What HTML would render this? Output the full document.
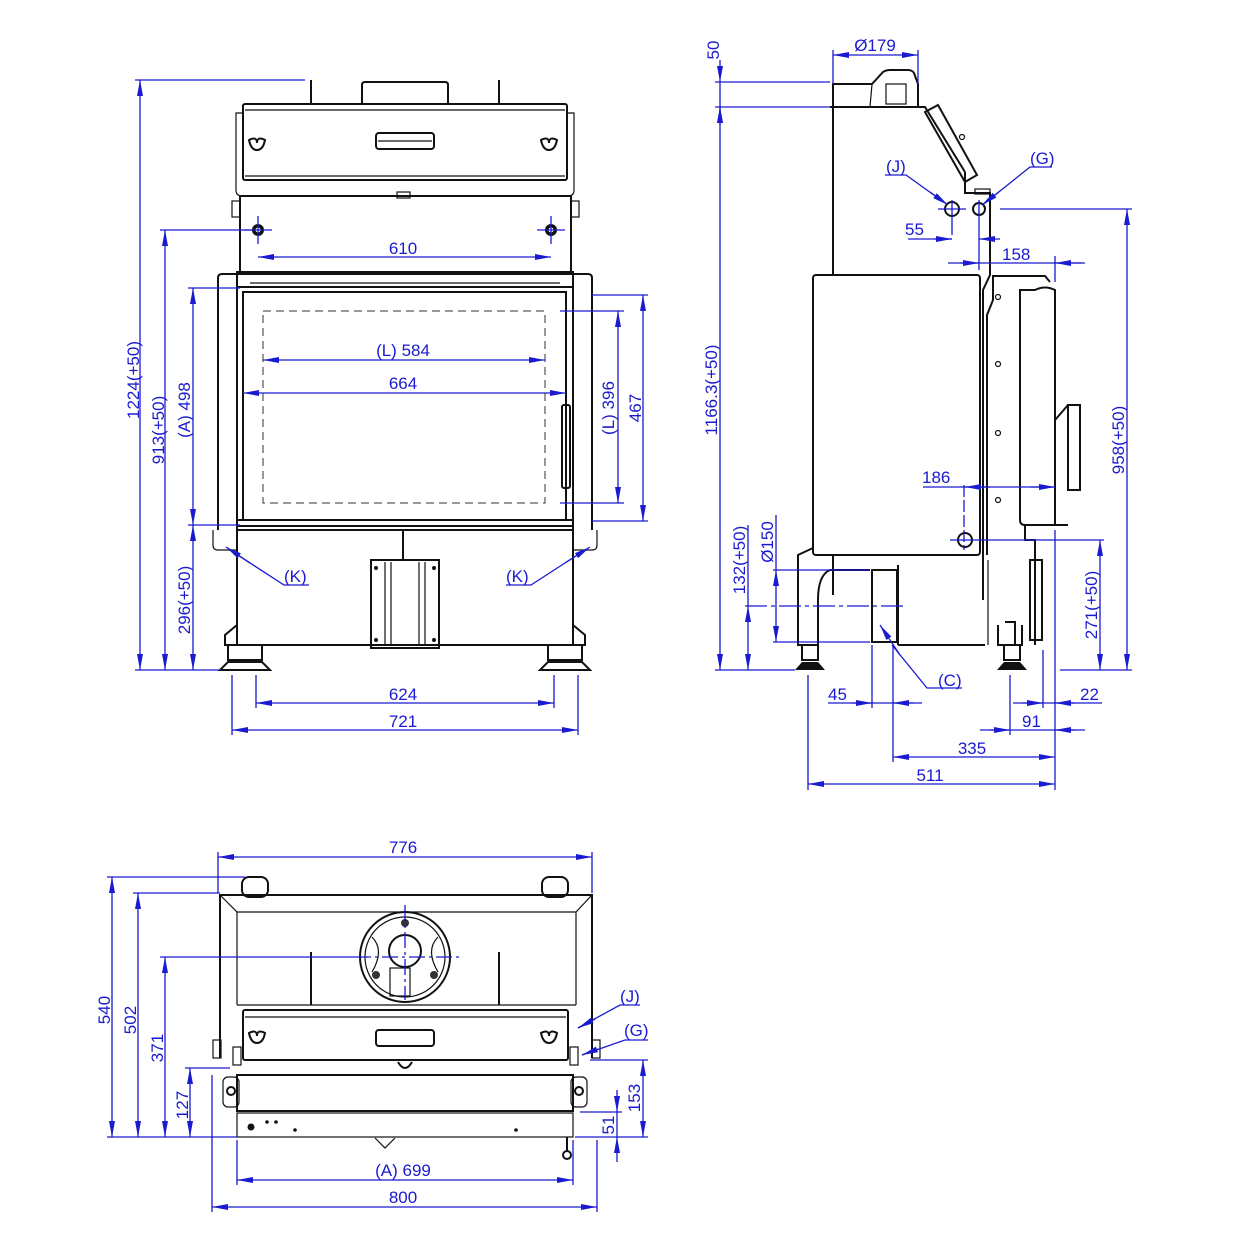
<!DOCTYPE html>
<html><head><meta charset="utf-8"><style>
html,body{margin:0;padding:0;background:#fff;width:1241px;height:1259px;overflow:hidden}
svg{display:block}
.k{fill:none;stroke:#111;stroke-width:2}
.t{fill:none;stroke:#111;stroke-width:1.2}
.b{fill:none;stroke:#1a1ad0;stroke-width:1.3}
.d{stroke:#1a1ad0;stroke-width:1.3;marker-start:url(#a);marker-end:url(#a)}
.e{stroke:#1a1ad0;stroke-width:1.3;marker-end:url(#a)}
text{font-family:"Liberation Sans",sans-serif;font-size:17px;fill:#1a1ad0}
</style></head><body>
<svg width="1241" height="1259" viewBox="0 0 1241 1259" xmlns="http://www.w3.org/2000/svg">
<defs><marker id="a" markerUnits="userSpaceOnUse" markerWidth="16" markerHeight="8" refX="16" refY="4" orient="auto-start-reverse"><path d="M0,1L16,4L0,7z" fill="#1a1ad0"/></marker></defs>

<!-- ============ FRONT VIEW ============ -->
<g>
<path class="k" d="M362,104V85Q362,82 365,82H445Q448,82 448,85V104"/>
<path class="k" d="M311,80V104M499,80V104"/>
<rect class="k" x="243" y="104" width="324" height="76" rx="2"/>
<line class="t" x1="245" y1="110" x2="565" y2="110"/><line class="t" x1="245" y1="176" x2="565" y2="176"/>
<path class="t" d="M243,113H236V190Q236,196 242,196H568Q574,196 574,190V113H567"/>
<rect class="k" x="376" y="133" width="58" height="16" rx="3"/><line class="t" x1="378" y1="141" x2="432" y2="141"/>
<path class="k" d="M249,140q8,-4 8,3q0,-7 8,-3q-2,10 -8,10q-6,0 -8,-10z"/>
<path class="k" d="M541,140q8,-4 8,3q0,-7 8,-3q-2,10 -8,10q-6,0 -8,-10z"/>
<rect class="t" x="397" y="192" width="13" height="6"/>
<rect class="k" x="240" y="196" width="331" height="76"/>
<rect class="t" x="232" y="201" width="8" height="16"/><rect class="t" x="571" y="201" width="8" height="16"/>
<circle cx="258" cy="230" r="6" fill="#111"/><circle cx="258" cy="230" r="2.5" fill="#fff"/>
<circle cx="551" cy="230" r="6" fill="#111"/><circle cx="551" cy="230" r="2.5" fill="#fff"/>
<path class="b" d="M244,230H272M258,216V244M537,230H565M551,216V244"/>
<!-- door -->
<path class="k" d="M218,530V278Q218,274 222,274H588Q592,274 592,278V530"/>
<rect class="k" x="237" y="272" width="336" height="258"/>
<line class="k" x1="237" y1="287" x2="573" y2="287"/>
<rect class="k" x="243" y="292" width="323" height="228"/>
<line class="t" x1="250" y1="283" x2="560" y2="283"/>
<rect x="263" y="311" width="282" height="192" fill="none" stroke="#333" stroke-width="1" stroke-dasharray="8,5"/>
<rect class="k" x="562" y="405" width="8" height="83" rx="2"/>
<line class="k" x1="237" y1="520" x2="573" y2="520"/>
<line class="k" x1="237" y1="526" x2="573" y2="526"/>
<!-- lower -->
<rect class="k" x="237" y="530" width="336" height="115"/>
<path class="t" d="M213,530V545Q213,550 218,550H237M597,530V545Q597,550 592,550H573"/>
<line class="k" x1="403" y1="530" x2="403" y2="560"/>
<rect class="k" x="371" y="560" width="68" height="88"/>
<path class="t" d="M385,562V646M391,562V646M419,562V646M425,562V646"/>
<circle cx="376" cy="568" r="2" fill="#111"/><circle cx="434" cy="568" r="2" fill="#111"/><circle cx="376" cy="640" r="2" fill="#111"/><circle cx="434" cy="640" r="2" fill="#111"/>
<path class="k" d="M237,625L225,635V645H585V635L573,625"/>
<path class="k" d="M228,645V660H262V645M548,645V660H582V645"/>
<path class="k" d="M220,670L228,662H262L270,670ZM540,670L548,662H582L590,670Z" fill="#111"/>
</g>
<!-- front dims -->
<line class="b" x1="135" y1="80" x2="305" y2="80"/>
<line class="b" x1="135" y1="670" x2="220" y2="670"/>
<line class="d" x1="140" y1="80" x2="140" y2="670"/>
<text transform="translate(139,380) rotate(-90)" text-anchor="middle">1224(+50)</text>
<line class="b" x1="160" y1="230" x2="252" y2="230"/>
<line class="d" x1="165" y1="230" x2="165" y2="670"/>
<text transform="translate(164,430) rotate(-90)" text-anchor="middle">913(+50)</text>
<line class="b" x1="188" y1="288" x2="240" y2="288"/>
<line class="b" x1="188" y1="525" x2="240" y2="525"/>
<line class="d" x1="193" y1="288" x2="193" y2="525"/>
<text transform="translate(190,410) rotate(-90)" text-anchor="middle">(A) 498</text>
<line class="d" x1="193" y1="525" x2="193" y2="670"/>
<text transform="translate(190,600) rotate(-90)" text-anchor="middle">296(+50)</text>
<line class="b" x1="560" y1="311" x2="624" y2="311"/>
<line class="b" x1="560" y1="503" x2="624" y2="503"/>
<line class="d" x1="618" y1="311" x2="618" y2="503"/>
<text transform="translate(614,408) rotate(-90)" text-anchor="middle">(L) 396</text>
<line class="b" x1="592" y1="295" x2="648" y2="295"/>
<line class="b" x1="592" y1="521" x2="648" y2="521"/>
<line class="d" x1="643" y1="295" x2="643" y2="521"/>
<text transform="translate(641,408) rotate(-90)" text-anchor="middle">467</text>
<line class="d" x1="258" y1="257" x2="551" y2="257"/><text x="403" y="254" text-anchor="middle">610</text>
<line class="d" x1="263" y1="360" x2="545" y2="360"/><text x="403" y="356" text-anchor="middle">(L) 584</text>
<line class="d" x1="243" y1="393" x2="566" y2="393"/><text x="403" y="389" text-anchor="middle">664</text>
<line class="b" x1="256" y1="675" x2="256" y2="708"/><line class="b" x1="554" y1="675" x2="554" y2="708"/>
<line class="d" x1="256" y1="703" x2="554" y2="703"/><text x="403" y="700" text-anchor="middle">624</text>
<line class="b" x1="232" y1="675" x2="232" y2="735"/><line class="b" x1="578" y1="675" x2="578" y2="735"/>
<line class="d" x1="232" y1="730" x2="578" y2="730"/><text x="403" y="727" text-anchor="middle">721</text>
<path class="b" d="M309,585H284L230,550"/><line class="e" x1="250" y1="563" x2="226" y2="547"/>
<text x="284" y="582">(K)</text>
<path class="b" d="M506,585H531L585,550"/><line class="e" x1="565" y1="563" x2="590" y2="547"/>
<text x="506" y="582">(K)</text>

<!-- ============ SIDE VIEW ============ -->
<g>
<path class="k" d="M833,107V84H872L883,72Q886,70 890,70H908Q912,70 914,73L918,84V107"/>
<rect class="t" x="886" y="84" width="20" height="20"/>
<line class="t" x1="872" y1="84" x2="870" y2="107"/>
<path class="k" d="M830,107H925L965,172"/>
<line class="k" x1="833" y1="107" x2="833" y2="275"/>
<path class="k" d="M925,112L938,105L977,175L965,182Z"/>
<circle cx="962" cy="137" r="2.5" class="t"/>
<path class="k" d="M965,172V193H990V275L983,290V600"/>
<rect class="t" x="975" y="189" width="15" height="5"/>
<circle cx="952" cy="209" r="7" class="k" stroke-width="2.5"/>
<circle cx="979" cy="209" r="6" class="k" stroke-width="2.5"/>
<rect class="k" x="813" y="275" width="167" height="280" rx="3"/>
<path class="k" d="M993,275V300L987,315V555"/>
<path class="k" d="M993,276H1045L1050,282"/>
<path class="k" d="M1020,290V520Q1020,525 1025,525H1055V290Q1045,285 1035,290Z"/>
<rect class="k" x="1068" y="405" width="12" height="85"/>
<line class="k" x1="1055" y1="420" x2="1068" y2="405"/>
<circle cx="998" cy="297" r="2.5" class="t"/><circle cx="998" cy="364" r="2.5" class="t"/><circle cx="998" cy="433" r="2.5" class="t"/><circle cx="998" cy="500" r="2.5" class="t"/>
<circle cx="965" cy="540" r="7" class="k" stroke-width="2.5"/>
<path class="k" d="M1025,525V540H1035V645M1045,525H1068"/>
<rect class="k" x="1030" y="560" width="12" height="80"/>
<path class="k" d="M813,548L798,555V645H818V600Q818,575 830,570H870"/>
<line class="k" x1="833" y1="555" x2="833" y2="595"/>
<rect class="k" x="872" y="570" width="25" height="72"/>
<line class="k" x1="898" y1="565" x2="898" y2="645"/>
<line class="k" x1="898" y1="645" x2="985" y2="645"/>
<line class="t" x1="988" y1="560" x2="988" y2="645"/>
<path class="k" d="M998,625V645H1022V625M1005,622H1015V645"/>
<path class="k" d="M802,645V660H818V645M1004,645V660H1020V645"/>
<path d="M795,670L802,662H818L825,670ZM997,670L1004,662H1020L1027,670Z" fill="#111"/>
</g>
<!-- side dims -->
<line class="b" x1="715" y1="82" x2="830" y2="82"/>
<line class="b" x1="715" y1="107" x2="830" y2="107"/>
<line class="b" x1="715" y1="670" x2="795" y2="670"/>
<line class="e" x1="720" y1="60" x2="720" y2="82"/><line class="e" x1="720" y1="125" x2="720" y2="107"/>
<line class="b" x1="720" y1="82" x2="720" y2="107"/>
<text transform="translate(719,50) rotate(-90)" text-anchor="middle">50</text>
<line class="d" x1="720" y1="107" x2="720" y2="670"/>
<text transform="translate(717,390) rotate(-90)" text-anchor="middle">1166.3(+50)</text>
<line class="b" x1="833" y1="50" x2="833" y2="84"/><line class="b" x1="918" y1="50" x2="918" y2="84"/>
<line class="d" x1="833" y1="55" x2="918" y2="55"/><text x="875" y="51" text-anchor="middle">Ø179</text>
<path class="b" d="M885,175H906L945,203"/><line class="e" x1="930" y1="192" x2="948" y2="205"/><text x="886" y="172">(J)</text>
<path class="b" d="M1052,167H1030L985,203"/><line class="e" x1="1000" y1="191" x2="982" y2="205"/><text x="1030" y="164">(G)</text>
<path class="b" d="M938,209H966M952,200V235M979,200V270M1000,209H1132"/>
<line class="b" x1="908" y1="239" x2="952" y2="239"/><line class="e" x1="934" y1="239" x2="952" y2="239"/><line class="e" x1="1000" y1="239" x2="979" y2="239"/>
<text x="905" y="235">55</text>
<line class="b" x1="1055" y1="256" x2="1055" y2="282"/>
<line class="b" x1="948" y1="263" x2="1085" y2="263"/><line class="e" x1="960" y1="263" x2="979" y2="263"/><line class="e" x1="1082" y1="263" x2="1055" y2="263"/>
<text x="1002" y="260">158</text>
<line class="d" x1="1127" y1="209" x2="1127" y2="670"/>
<text transform="translate(1124,440) rotate(-90)" text-anchor="middle">958(+50)</text>
<line class="b" x1="1060" y1="670" x2="1132" y2="670"/>
<line class="b" x1="923" y1="487" x2="1055" y2="487"/><line class="e" x1="990" y1="487" x2="965" y2="487"/><line class="e" x1="1030" y1="487" x2="1055" y2="487"/>
<line class="b" x1="964" y1="485" x2="964" y2="550" stroke-dasharray="12,3"/>
<text x="922" y="483">186</text>
<line class="b" x1="950" y1="540" x2="1104" y2="540"/>
<line class="d" x1="1100" y1="540" x2="1100" y2="670"/>
<text transform="translate(1097,605) rotate(-90)" text-anchor="middle">271(+50)</text>
<line class="b" x1="773" y1="570" x2="870" y2="570"/><line class="b" x1="773" y1="642" x2="870" y2="642"/>
<line class="d" x1="776" y1="570" x2="776" y2="642"/>
<line class="b" x1="776" y1="515" x2="776" y2="570"/>
<text transform="translate(773,542) rotate(-90)" text-anchor="middle">Ø150</text>
<line class="b" x1="745" y1="606" x2="905" y2="606" stroke-dasharray="22,4,4,4"/>
<line class="d" x1="748" y1="606" x2="748" y2="670"/>
<line class="b" x1="748" y1="525" x2="748" y2="606"/>
<text transform="translate(745,560) rotate(-90)" text-anchor="middle">132(+50)</text>
<path class="b" d="M962,688H927L892,645"/><line class="e" x1="900" y1="655" x2="880" y2="625"/><text x="938" y="686">(C)</text>
<line class="b" x1="872" y1="645" x2="872" y2="708"/><line class="b" x1="893" y1="645" x2="893" y2="762"/>
<line class="b" x1="828" y1="703" x2="922" y2="703"/><line class="e" x1="852" y1="703" x2="872" y2="703"/><line class="e" x1="913" y1="703" x2="893" y2="703"/>
<text x="828" y="700">45</text>
<line class="b" x1="808" y1="675" x2="808" y2="790"/><line class="b" x1="1010" y1="675" x2="1010" y2="735"/>
<line class="b" x1="1043" y1="650" x2="1043" y2="708"/><line class="b" x1="1055" y1="530" x2="1055" y2="790"/>
<line class="b" x1="1013" y1="703" x2="1102" y2="703"/><line class="e" x1="1023" y1="703" x2="1043" y2="703"/><line class="e" x1="1075" y1="703" x2="1055" y2="703"/>
<text x="1080" y="700">22</text>
<line class="b" x1="980" y1="730" x2="1085" y2="730"/><line class="e" x1="990" y1="730" x2="1010" y2="730"/><line class="e" x1="1075" y1="730" x2="1055" y2="730"/>
<text x="1022" y="727">91</text>
<line class="d" x1="893" y1="757" x2="1055" y2="757"/><text x="972" y="754" text-anchor="middle">335</text>
<line class="d" x1="808" y1="784" x2="1055" y2="784"/><text x="930" y="781" text-anchor="middle">511</text>

<!-- ============ TOP VIEW ============ -->
<g>
<rect class="k" x="242" y="877" width="26" height="20" rx="7"/><rect class="k" x="542" y="877" width="26" height="20" rx="7"/>
<path class="k" d="M220,1058V895H592V1058"/>
<path class="t" d="M220,895L237,912H576L592,895"/>
<line class="t" x1="237" y1="912" x2="237" y2="1005"/><line class="t" x1="576" y1="912" x2="576" y2="1005"/>
<line class="t" x1="237" y1="1005" x2="576" y2="1005"/>
<circle cx="405" cy="957" r="45" class="k" stroke-width="2.5"/>
<circle cx="405" cy="957" r="40" class="t"/>
<circle cx="405" cy="951" r="16" class="k"/>
<path class="t" d="M372,937Q385,950 372,972M438,937Q425,950 438,972"/>
<rect class="t" x="390" y="968" width="20" height="28"/>
<circle cx="405" cy="923" r="4" fill="#333"/><circle cx="376" cy="975" r="4" fill="#333"/><circle cx="434" cy="975" r="4" fill="#333"/>
<path class="b" d="M405,905V1000M355,957H460" stroke-dasharray="16,4,3,4"/>
<line class="k" x1="311" y1="952" x2="311" y2="1005"/><line class="k" x1="499" y1="952" x2="499" y2="1005"/>
<rect class="k" x="243" y="1010" width="325" height="50" rx="2"/>
<line class="t" x1="245" y1="1017" x2="566" y2="1017"/>
<rect class="k" x="376" y="1030" width="58" height="16" rx="3"/>
<path class="k" d="M249,1033q8,-4 8,3q0,-7 8,-3q-2,10 -8,10q-6,0 -8,-10z"/>
<path class="k" d="M541,1033q8,-4 8,3q0,-7 8,-3q-2,10 -8,10q-6,0 -8,-10z"/>
<path class="k" d="M398,1062Q405,1074 412,1062"/>
<rect class="t" x="213" y="1040" width="8" height="18"/><rect class="t" x="592" y="1040" width="8" height="18"/>
<rect class="t" x="233" y="1047" width="8" height="18"/><rect class="t" x="570" y="1047" width="8" height="18"/>
<rect class="k" x="237" y="1075" width="336" height="36"/>
<rect class="t" x="223" y="1077" width="16" height="30" rx="5"/><rect class="t" x="571" y="1077" width="16" height="30" rx="5"/>
<circle cx="231" cy="1091" r="4" class="k"/><circle cx="579" cy="1091" r="4" class="k"/>
<rect class="t" x="237" y="1113" width="336" height="24"/>
<circle cx="251" cy="1127" r="3.5" fill="#111"/><circle cx="267" cy="1122" r="1.8" fill="#111"/><circle cx="276" cy="1122" r="1.8" fill="#111"/><circle cx="295" cy="1130" r="1.8" fill="#111"/><circle cx="516" cy="1130" r="1.8" fill="#111"/>
<path class="t" d="M375,1138L385,1148L395,1138"/>
<line class="k" x1="567" y1="1137" x2="567" y2="1152"/><circle cx="567" cy="1155" r="4" class="k"/>
</g>
<!-- top dims -->
<line class="b" x1="218" y1="852" x2="218" y2="893"/><line class="b" x1="592" y1="852" x2="592" y2="893"/>
<line class="d" x1="218" y1="857" x2="592" y2="857"/><text x="403" y="853" text-anchor="middle">776</text>
<line class="b" x1="107" y1="877" x2="245" y2="877"/><line class="b" x1="133" y1="893" x2="220" y2="893"/>
<line class="b" x1="107" y1="1137" x2="237" y2="1137"/>
<line class="d" x1="112" y1="877" x2="112" y2="1137"/><text transform="translate(110,1010) rotate(-90)" text-anchor="middle">540</text>
<line class="d" x1="138" y1="893" x2="138" y2="1137"/><text transform="translate(136,1020) rotate(-90)" text-anchor="middle">502</text>
<line class="b" x1="160" y1="957" x2="355" y2="957"/>
<line class="d" x1="165" y1="957" x2="165" y2="1137"/><text transform="translate(163,1048) rotate(-90)" text-anchor="middle">371</text>
<line class="b" x1="185" y1="1068" x2="230" y2="1068"/>
<line class="d" x1="190" y1="1068" x2="190" y2="1137"/><text transform="translate(188,1105) rotate(-90)" text-anchor="middle">127</text>
<line class="b" x1="590" y1="1060" x2="648" y2="1060"/><line class="b" x1="580" y1="1112" x2="622" y2="1112"/><line class="b" x1="575" y1="1137" x2="648" y2="1137"/>
<line class="d" x1="643" y1="1060" x2="643" y2="1137"/><text transform="translate(640,1098) rotate(-90)" text-anchor="middle">153</text>
<line class="e" x1="617" y1="1090" x2="617" y2="1112"/><line class="e" x1="617" y1="1162" x2="617" y2="1137"/><line class="b" x1="617" y1="1112" x2="617" y2="1137"/>
<text transform="translate(614,1125) rotate(-90)" text-anchor="middle">51</text>
<path class="b" d="M640,1005H620L578,1028"/><line class="e" x1="595" y1="1019" x2="578" y2="1028"/><text x="620" y="1002">(J)</text>
<path class="b" d="M648,1040H625L582,1055"/><line class="e" x1="598" y1="1049" x2="582" y2="1055"/><text x="624" y="1036">(G)</text>
<line class="b" x1="237" y1="1140" x2="237" y2="1185"/><line class="b" x1="573" y1="1140" x2="573" y2="1185"/>
<line class="d" x1="237" y1="1180" x2="573" y2="1180"/><text x="403" y="1176" text-anchor="middle">(A) 699</text>
<line class="b" x1="212" y1="1075" x2="212" y2="1212"/><line class="b" x1="597" y1="1140" x2="597" y2="1212"/>
<line class="d" x1="212" y1="1207" x2="597" y2="1207"/><text x="403" y="1203" text-anchor="middle">800</text>
</svg>
</body></html>
